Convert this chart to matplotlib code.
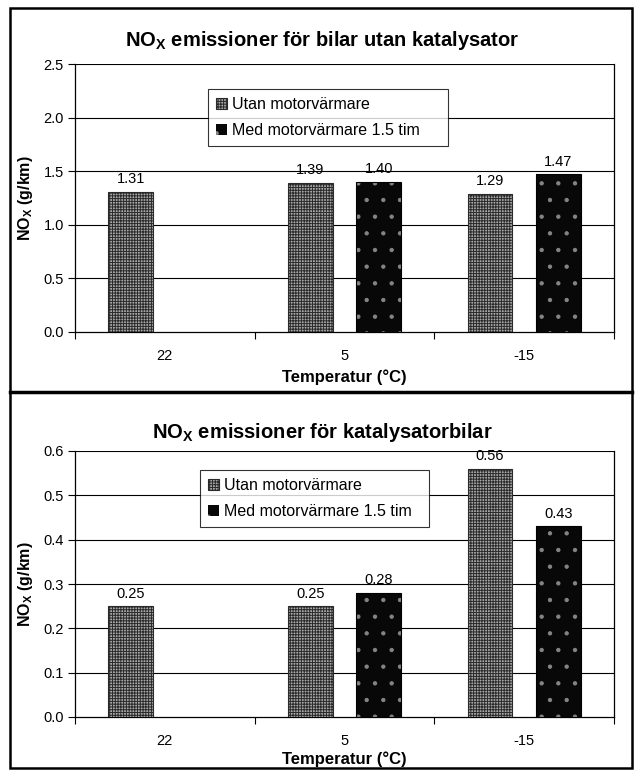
import numpy as np
import matplotlib
matplotlib.use('Agg')
import matplotlib.pyplot as plt
from matplotlib.patches import Rectangle
from matplotlib.lines import Line2D

plt.rcParams['font.family'] = ['Liberation Sans', 'DejaVu Sans']
plt.rcParams['mathtext.default'] = 'regular'
plt.rcParams['hatch.linewidth'] = 0.7

# data
categories = ['22', '5', '-15']
series_names = ['Utan motorvärmare', 'Med motorvärmare 1.5 tim']
utan_top = [1.31, 1.39, 1.29]
med_top = [np.nan, 1.40, 1.47]
utan_bot = [0.25, 0.25, 0.56]
med_bot = [np.nan, 0.28, 0.43]

titles = ['NO$_X$ emissioner för bilar utan katalysator',
          'NO$_X$ emissioner för katalysatorbilar']
ylims = [(0, 2.5), (0, 0.6)]
ysteps = [0.5, 0.1]
ylabel = 'NO$_X$ (g/km)'
xlabel = 'Temperatur (°C)'

W, H = 637, 774
fig = plt.figure(figsize=(W / 100, H / 100), dpi=100)

def fx(px):
    return px / W

def fy(py):
    return 1 - py / H

# axes boxes in pixels: left, top, right, bottom
boxes = [(75, 64, 614, 332), (75, 451, 614, 717)]
title_y = [40, 432]
legend_boxes = [(0.247, 0.69, 0.445, 0.22), (0.232, 0.70, 0.425, 0.242)]
xlabel_off = [-0.138, -0.13]

x = np.arange(len(categories))
off = 0.19
bw = 0.25

for k, (utan, med) in enumerate([(utan_top, med_top), (utan_bot, med_bot)]):
    l, t, r, b = boxes[k]
    ax = fig.add_axes([fx(l), fy(b), fx(r) - fx(l), fy(t) - fy(b)])

    b1 = ax.bar(x - off, utan, bw, facecolor='#a8a8a8', edgecolor='#2a2a2a',
                hatch='++++++', linewidth=0.8, label=series_names[0], zorder=3)
    b2 = ax.bar(x + off, med, bw, facecolor='#080808', edgecolor='#858585',
                hatch='.', linewidth=0, label=series_names[1], zorder=3)
    ax.bar(x + off, med, bw, fill=False, edgecolor='black', linewidth=0.8, zorder=4)

    for xs, vals in [(x - off, utan), (x + off, med)]:
        for xi, v in zip(xs, vals):
            if np.isnan(v):
                continue
            ax.annotate(f'{v:.2f}', (xi, v), xytext=(0, 4), textcoords='offset points',
                        ha='center', va='bottom', fontsize=10.5)

    lo, hi = ylims[k]
    ax.set_ylim(lo, hi)
    ax.set_xlim(-0.5, len(categories) - 0.5)
    yt = np.arange(lo, hi + ysteps[k] / 2, ysteps[k])
    ax.set_yticks(yt)
    ax.set_yticklabels([f'{v:.1f}' for v in yt], fontsize=10.5)
    for v in yt[1:]:
        ax.axhline(v, color='black', linewidth=0.8, zorder=1)

    ax.set_xticks(np.arange(-0.5, len(categories)))
    ax.set_xticklabels([])
    ax.set_xticks(x, minor=True)
    ax.set_xticklabels(categories, minor=True, fontsize=10.5)
    ax.tick_params(axis='x', which='major', direction='out', length=5, width=0.8)
    ax.tick_params(axis='x', which='minor', length=0, pad=12)
    ax.tick_params(axis='y', direction='out', length=5, width=0.8, pad=3)

    ax.spines['top'].set_visible(False)
    for s in ['left', 'bottom', 'right']:
        ax.spines[s].set_linewidth(0.9)

    ax.set_ylabel(ylabel, fontsize=11.5, fontweight='bold')
    ax.yaxis.set_label_coords(-0.075, 0.5)
    ax.set_xlabel(xlabel, fontsize=12, fontweight='bold')
    ax.xaxis.set_label_coords(0.5, xlabel_off[k])

    leg = ax.legend(handles=[b1, b2], loc='center', bbox_to_anchor=legend_boxes[k],
                    mode='expand', fontsize=11.5, frameon=True, fancybox=False,
                    shadow=False, handlelength=0.7, handleheight=0.7,
                    handletextpad=0.3, labelspacing=0.65, borderpad=0.5,
                    borderaxespad=0)
    leg.get_frame().set_edgecolor('black')
    leg.get_frame().set_linewidth(0.8)
    leg.set_zorder(5)

    fig.text(fx(322), fy(title_y[k]), titles[k], ha='center', va='center',
             fontsize=14.5, fontweight='bold')

# outer border and panel divider
fig.add_artist(Rectangle((fx(10), fy(768)), fx(632) - fx(10), fy(8) - fy(768),
                         transform=fig.transFigure, fill=False,
                         edgecolor='black', linewidth=1.8))
fig.add_artist(Line2D([fx(10), fx(632)], [fy(392), fy(392)],
                      transform=fig.transFigure, color='black', linewidth=2.5))

fig.savefig('out.png', dpi=100)
